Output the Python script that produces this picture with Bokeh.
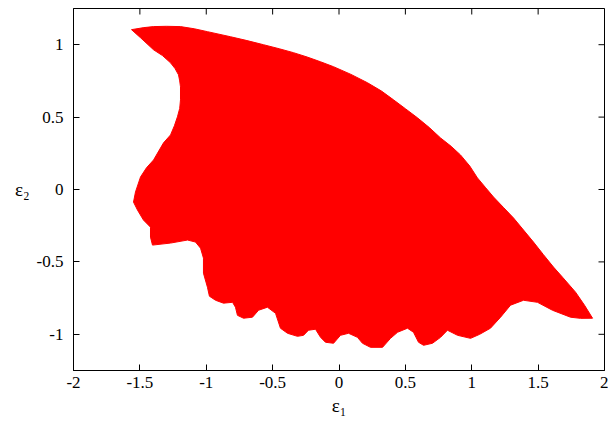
import math
from bokeh.plotting import figure
from bokeh.models import FixedTicker, Range1d
from bokeh.embed import file_html
from bokeh.resources import INLINE

# Boundary of the reachable (eps1, eps2) region (clockwise from the upper-left tip)
eps1 = [-1.563, -1.470, -1.397, -1.300, -1.194, -1.090, -0.991, -0.817, -0.700, -0.569,
        -0.450, -0.343, -0.240, -0.139, -0.041, 0.090, 0.215, 0.320, 0.411, 0.500,
        0.591, 0.680, 0.765, 0.845, 0.915, 0.985, 1.043, 1.105, 1.164, 1.240,
        1.315, 1.390, 1.465, 1.540, 1.616, 1.684, 1.782, 1.850, 1.910, 1.820,
        1.744, 1.608, 1.495, 1.390, 1.292, 1.217, 1.141, 1.060, 0.991, 0.893,
        0.817, 0.765, 0.704, 0.637, 0.599, 0.561, 0.516, 0.441, 0.388, 0.328,
        0.237, 0.177, 0.139, 0.072, 0.011, -0.041, -0.102, -0.139, -0.177, -0.230,
        -0.267, -0.313, -0.388, -0.441, -0.478, -0.539, -0.606, -0.652, -0.719, -0.765,
        -0.780, -0.802, -0.870, -0.930, -0.976, -0.991, -1.021, -1.021, -1.043, -1.081,
        -1.141, -1.269, -1.405, -1.420, -1.420, -1.473, -1.518, -1.548, -1.533, -1.495,
        -1.450, -1.397, -1.322, -1.269, -1.240, -1.217, -1.200, -1.194, -1.194, -1.200,
        -1.209, -1.235, -1.269, -1.330, -1.397, -1.495]
eps2 = [1.104, 1.118, 1.125, 1.127, 1.125, 1.110, 1.090, 1.055, 1.030, 1.000,
        0.972, 0.945, 0.915, 0.882, 0.848, 0.795, 0.737, 0.680, 0.619, 0.558,
        0.495, 0.428, 0.356, 0.298, 0.239, 0.162, 0.080, 0.012, -0.052, -0.125,
        -0.197, -0.280, -0.363, -0.450, -0.536, -0.606, -0.709, -0.800, -0.889, -0.890,
        -0.882, -0.834, -0.779, -0.765, -0.799, -0.882, -0.958, -1.000, -1.028, -1.007,
        -0.972, -1.021, -1.062, -1.076, -1.055, -0.986, -0.958, -0.986, -1.028, -1.090,
        -1.090, -1.062, -1.021, -0.993, -1.007, -1.062, -1.055, -1.021, -0.965, -0.972,
        -1.007, -1.014, -0.993, -0.958, -0.855, -0.813, -0.834, -0.882, -0.889, -0.869,
        -0.813, -0.779, -0.785, -0.765, -0.737, -0.675, -0.578, -0.474, -0.405, -0.363,
        -0.349, -0.370, -0.384, -0.329, -0.260, -0.211, -0.142, -0.087, -0.017, 0.087,
        0.150, 0.204, 0.322, 0.377, 0.440, 0.502, 0.560, 0.619, 0.709, 0.750,
        0.792, 0.835, 0.875, 0.925, 0.965, 1.048]

x_ticks = [-2, -1.5, -1, -0.5, 0, 0.5, 1, 1.5, 2]
y_ticks = [-1, -0.5, 0, 0.5, 1]
x_lo, x_hi = -2, 2
y_lo, y_hi = -1.25, 1.25

FONT = "'Liberation Serif', 'Times New Roman', serif"

p = figure(width=608, height=418, output_backend="svg", toolbar_location=None,
           x_range=Range1d(x_lo, x_hi), y_range=Range1d(y_lo, y_hi),
           min_border_left=73, min_border_right=4, min_border_top=8, min_border_bottom=48)

p.patch(eps1, eps2, fill_color="#ff0000", line_color="#ff0000", line_width=1)

p.grid.visible = False
p.outline_line_color = "black"
p.outline_line_width = 1

p.xaxis.ticker = FixedTicker(ticks=x_ticks)
p.yaxis.ticker = FixedTicker(ticks=y_ticks)
p.xaxis.major_label_overrides = {t: f"{t:g}" for t in x_ticks}
p.yaxis.major_label_overrides = {t: f"{t:g}" for t in y_ticks}
for ax in (p.xaxis, p.yaxis):
    ax.major_tick_in = 6
    ax.major_tick_out = 0
    ax.minor_tick_line_color = None
    ax.axis_line_color = "black"
    ax.major_tick_line_color = "black"
    ax.major_label_text_font = FONT
    ax.major_label_text_font_size = "17px"
    ax.major_label_text_color = "black"
    ax.axis_label_text_font = FONT
    ax.axis_label_text_font_style = "normal"
    ax.axis_label_text_font_size = "19px"
    ax.axis_label_text_color = "black"

p.xaxis.major_label_standoff = 6
p.yaxis.major_label_standoff = 10
p.xaxis.axis_label = "ε₁"
p.xaxis.axis_label_standoff = 4
p.yaxis.axis_label = "ε₂"
p.yaxis.axis_label_standoff = 4
try:
    p.yaxis.axis_label_orientation = "horizontal"
except Exception:
    pass

# mirrored inward tick marks on the top and right edges of the frame
p.scatter(x=x_ticks, y=[y_hi] * len(x_ticks), marker="dash", size=12, angle=math.pi / 2,
          line_color="black", line_width=1)
p.scatter(x=[x_hi] * len(y_ticks), y=y_ticks, marker="dash", size=12,
          line_color="black", line_width=1)

open("out.html", "w").write(file_html(p, INLINE))
